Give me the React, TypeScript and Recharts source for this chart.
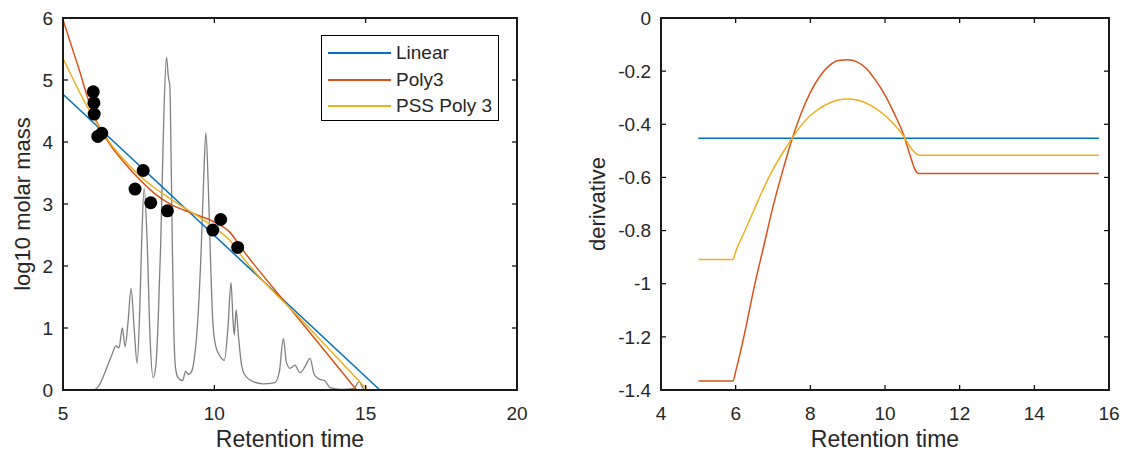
import { ComposedChart, Line, Scatter, XAxis, YAxis, Legend, Label } from "recharts"

const FONT = '"Liberation Sans", Arial, sans-serif'
const INK = "#262626"
const BLUE = "#0072BD"
const RED = "#D95319"
const YELLOW = "#EDB120"
const GRAY = "#808080"

// ---- left panel: calibration ----
const traceTime = [
  5, 6, 6.2, 6.4, 6.6, 6.75, 6.85, 6.96, 7.05, 7.15, 7.25, 7.35, 7.45, 7.53, 7.6, 7.68, 7.78, 7.88,
  7.98, 8.07, 8.15, 8.23, 8.33, 8.42, 8.48, 8.53, 8.57, 8.61, 8.66, 8.72, 8.8, 8.95, 9.05, 9.15,
  9.25, 9.35, 9.45, 9.56, 9.64, 9.72, 9.8, 9.88, 9.95, 10.05, 10.2, 10.33, 10.45, 10.55, 10.62,
  10.66, 10.72, 10.8, 10.9, 11, 11.3, 11.6, 12, 12.15, 12.28, 12.38, 12.5, 12.66, 12.83, 13,
  13.16, 13.3, 13.45, 13.65, 13.82, 14.2, 14.6, 14.78, 14.95, 15.2, 20,
]
const traceSignal = [
  0, 0, 0.08, 0.3, 0.55, 0.71, 0.68, 1.0, 0.7, 1.1, 1.64, 1.0, 0.43, 1.2, 2.4, 3.25, 2.4, 0.8,
  0.2, 0.4, 1.2, 2.4, 4.4, 5.37, 5.05, 4.9, 3.8, 2.4, 1.0, 0.35, 0.2, 0.15, 0.3, 0.25,
  0.3, 0.55, 1.1, 2.2, 3.3, 4.15, 3.3, 2.0, 1.1, 0.7, 0.54, 0.48, 1.0, 1.73, 1.1,
  0.89, 1.29, 0.85, 0.4, 0.25, 0.13, 0.1, 0.12, 0.3, 0.83, 0.45, 0.35, 0.4, 0.28, 0.38,
  0.51, 0.25, 0.18, 0.15, 0.04, 0.01, 0.02, 0.13, 0.01, 0, 0,
]

const dotTime = [6.0, 6.02, 6.03, 6.15, 6.28, 7.65, 7.38, 7.9, 8.45, 9.95, 10.21, 10.77]
const dotMass = [4.81, 4.63, 4.45, 4.09, 4.14, 3.54, 3.24, 3.02, 2.89, 2.58, 2.75, 2.3]

const linearTime = [5, 15.47]
const linearMass = [4.77, 0]
const poly3Time = [5, 5.5, 6, 6.5, 7, 7.5, 8, 8.5, 9, 9.5, 10, 10.5, 11, 12.5, 14.7]
const poly3Mass = [5.97, 5.22, 4.45, 4.0, 3.68, 3.41, 3.18, 3.01, 2.9, 2.81, 2.71, 2.55, 2.22, 1.32, 0]
const pssTime = [5, 5.5, 6, 6.5, 7, 7.5, 8, 8.5, 9, 9.5, 10, 10.5, 11, 13, 15.06]
const pssMass = [5.35, 4.85, 4.4, 4.02, 3.72, 3.47, 3.27, 3.1, 2.94, 2.79, 2.62, 2.42, 2.1, 1.07, 0]

const legendOrder = ["Linear", "Poly3", "PSS Poly 3"]
const leftXTicks = [5, 10, 15, 20]
const leftYTicks = [0, 1, 2, 3, 4, 5, 6]

// ---- right panel: derivative ----
const dLinearTime = [5, 15.73]
const dLinear = [-0.453, -0.453]
const dPoly3Time = [
  5, 5.93, 6, 6.25, 6.5, 6.75, 7, 7.25, 7.5, 7.75, 8, 8.25, 8.5, 8.75, 9, 9.25, 9.5, 9.75, 10,
  10.25, 10.5, 10.7, 10.8, 10.9, 15.73,
]
const dPoly3 = [
  -1.366, -1.366, -1.33, -1.18, -1.01, -0.86, -0.71, -0.58, -0.46, -0.36, -0.28, -0.22, -0.18,
  -0.16, -0.157, -0.165, -0.19, -0.235, -0.29, -0.36, -0.44, -0.53, -0.57, -0.585, -0.585,
]
const dPssTime = [
  5, 5.93, 6, 6.25, 6.5, 6.75, 7, 7.25, 7.5, 7.75, 8, 8.25, 8.5, 8.75, 9, 9.25, 9.5, 9.75, 10,
  10.25, 10.5, 10.7, 10.85, 10.95, 15.73,
]
const dPss = [
  -0.909, -0.909, -0.88, -0.8, -0.72, -0.64, -0.57, -0.51, -0.455, -0.405, -0.367, -0.34, -0.321,
  -0.309, -0.305, -0.309, -0.321, -0.34, -0.367, -0.402, -0.445, -0.49, -0.512, -0.517, -0.517,
]

const rightXTicks = [4, 6, 8, 10, 12, 14, 16]
const rightYTicks = [-1.4, -1.2, -1, -0.8, -0.6, -0.4, -0.2, 0]

const pairs = (xs: number[], ys: number[]) => xs.map((t, i) => ({ t, v: ys[i] }))

// plot box in each chart's own pixels
const TOP = 18
const BOTTOM = 390
const TICK = 5

const LegendBox = ({ payload }: any) => {
  const items = (payload || [])
    .filter((p: any) => legendOrder.includes(p.value))
    .sort((a: any, b: any) => legendOrder.indexOf(a.value) - legendOrder.indexOf(b.value))
  return (
    <div
      style={{
        width: 176,
        height: 80,
        border: "1px solid #000",
        background: "#fff",
        fontFamily: FONT,
        fontSize: 19,
        color: INK,
        paddingTop: 4,
        boxSizing: "content-box",
      }}
    >
      {items.map((p: any) => (
        <div key={p.value} style={{ display: "flex", alignItems: "center", height: 26.5 }}>
          <span
            style={{
              display: "inline-block",
              width: 63,
              borderTop: `2px solid ${p.color}`,
              marginLeft: 6,
              marginRight: 5,
            }}
          />
          <span>{p.value}</span>
        </div>
      ))}
    </div>
  )
}

const xTitle = (cx: number) => () => (
  <text x={cx} y={447} textAnchor="middle" fontSize={23} fontFamily={FONT} fill={INK}>
    Retention time
  </text>
)

const yTitle = (text: string, cx: number, cy: number) => () => (
  <text
    x={cx}
    y={cy}
    transform={`rotate(-90 ${cx} ${cy})`}
    textAnchor="middle"
    dominantBaseline="central"
    fontSize={22}
    fontFamily={FONT}
    fill={INK}
  >
    {text}
  </text>
)

// matlab style: tick marks point inward on both opposite sides
const xTick = (props: any) => {
  const { x, payload } = props
  return (
    <g>
      <line x1={x} x2={x} y1={BOTTOM} y2={BOTTOM - TICK} stroke="#000" strokeWidth={1.2} />
      <line x1={x} x2={x} y1={TOP} y2={TOP + TICK} stroke="#000" strokeWidth={1.2} />
      <text x={x} y={420} textAnchor="middle" fontSize={19} fontFamily={FONT} fill={INK}>
        {payload.value}
      </text>
    </g>
  )
}

const yTick = (left: number, right: number) => (props: any) => {
  const { y, payload } = props
  const label = String(Math.round(payload.value * 10) / 10)
  return (
    <g>
      <line x1={left} x2={left + TICK} y1={y} y2={y} stroke="#000" strokeWidth={1.2} />
      <line x1={right} x2={right - TICK} y1={y} y2={y} stroke="#000" strokeWidth={1.2} />
      <text x={left - 10} y={y} dy="0.35em" textAnchor="end" fontSize={19} fontFamily={FONT} fill={INK}>
        {label}
      </text>
    </g>
  )
}

function FrameAxes({ xTicks, yTicks, xDomain, yDomain, left, right, yW, xTitleX, yTitleText, yTitleX }: any) {
  return [
    <XAxis
      key="x"
      dataKey="t"
      type="number"
      domain={xDomain}
      ticks={xTicks}
      allowDataOverflow
      height={40}
      tick={xTick}
      tickLine={false}
      axisLine={false}
      interval={0}
    >
      <Label content={xTitle(xTitleX)} />
    </XAxis>,
    <YAxis
      key="y"
      type="number"
      domain={yDomain}
      ticks={yTicks}
      allowDataOverflow
      width={yW}
      tick={yTick(left, right)}
      tickLine={false}
      axisLine={false}
      interval={0}
    >
      <Label content={yTitle(yTitleText, yTitleX, 204)} />
    </YAxis>,
  ]
}

// axes box drawn over each plot area
const Box = ({ left, width }: { left: number; width: number }) => (
  <div
    style={{
      position: "absolute",
      left: left - 1,
      top: TOP - 1,
      width: width + 1,
      height: BOTTOM - TOP + 2,
      border: "2px solid #1a1a1a",
      boxSizing: "border-box",
      pointerEvents: "none",
      zIndex: 5,
    }}
  />
)

export default function App() {
  return (
    <div style={{ position: "absolute", left: 0, top: 0, width: 1130, height: 453, background: "#fff" }}>
      <div style={{ position: "absolute", left: 0, top: 0 }}>
        <ComposedChart width={560} height={453} margin={{ top: 18, right: 43, bottom: 23, left: 23 }}>
          {FrameAxes({
            xTicks: leftXTicks,
            yTicks: leftYTicks,
            xDomain: [5, 20],
            yDomain: [0, 6],
            left: 63,
            right: 517,
            yW: 40,
            xTitleX: 290,
            yTitleText: "log10 molar mass",
            yTitleX: 22,
          })}
          <Line
            data={pairs(traceTime, traceSignal)}
            dataKey="v"
            type="monotone"
            stroke={GRAY}
            strokeWidth={1.3}
            dot={false}
            legendType="none"
            isAnimationActive={false}
          />
          <Line
            data={pairs(linearTime, linearMass)}
            dataKey="v"
            name="Linear"
            type="linear"
            stroke={BLUE}
            strokeWidth={1.5}
            dot={false}
            isAnimationActive={false}
          />
          <Line
            data={pairs(poly3Time, poly3Mass)}
            dataKey="v"
            name="Poly3"
            type="monotone"
            stroke={RED}
            strokeWidth={1.5}
            dot={false}
            isAnimationActive={false}
          />
          <Line
            data={pairs(pssTime, pssMass)}
            dataKey="v"
            name="PSS Poly 3"
            type="monotone"
            stroke={YELLOW}
            strokeWidth={1.5}
            dot={false}
            isAnimationActive={false}
          />
          <Scatter
            data={pairs(dotTime, dotMass)}
            dataKey="v"
            fill="#000"
            legendType="none"
            shape={(p: any) => <circle cx={p.cx} cy={p.cy} r={6.5} fill="#000" />}
            isAnimationActive={false}
          />
          <Legend
            layout="vertical"
            align="center"
            verticalAlign="middle"
            content={LegendBox}
            wrapperStyle={{ left: 321, top: 35, width: 178, height: 86 }}
          />
        </ComposedChart>
        <Box left={63} width={455} />
      </div>
      <div style={{ position: "absolute", left: 560, top: 0 }}>
        <ComposedChart width={570} height={453} margin={{ top: 18, right: 21, bottom: 23, left: 41 }}>
          {FrameAxes({
            xTicks: rightXTicks,
            yTicks: rightYTicks,
            xDomain: [4, 16],
            yDomain: [-1.4, 0],
            left: 101,
            right: 549,
            yW: 60,
            xTitleX: 325,
            yTitleText: "derivative",
            yTitleX: 37,
          })}
          <Line
            data={pairs(dLinearTime, dLinear)}
            dataKey="v"
            type="linear"
            stroke={BLUE}
            strokeWidth={1.5}
            dot={false}
            isAnimationActive={false}
          />
          <Line
            data={pairs(dPoly3Time, dPoly3)}
            dataKey="v"
            type="monotone"
            stroke={RED}
            strokeWidth={1.5}
            dot={false}
            isAnimationActive={false}
          />
          <Line
            data={pairs(dPssTime, dPss)}
            dataKey="v"
            type="monotone"
            stroke={YELLOW}
            strokeWidth={1.5}
            dot={false}
            isAnimationActive={false}
          />
        </ComposedChart>
        <Box left={101} width={449} />
      </div>
    </div>
  )
}
